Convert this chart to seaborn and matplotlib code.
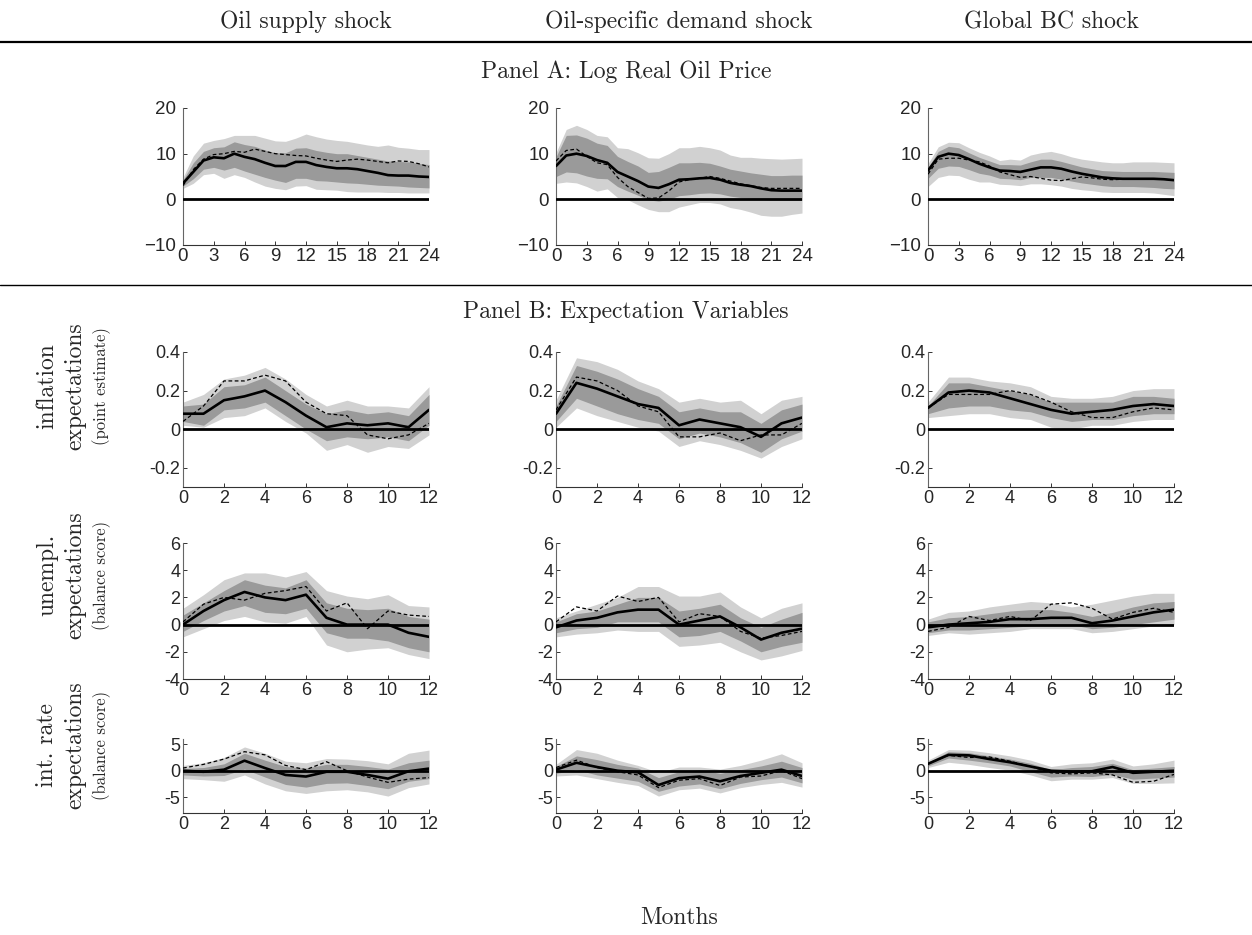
"""Impulse responses of oil price and expectation variables to three oil shocks"""

import matplotlib
matplotlib.use('Agg')
import matplotlib.pyplot as plt
from matplotlib.lines import Line2D
import numpy as np
import pandas as pd
import seaborn as sns

# column / row labels
shocks = ['Oil supply shock', 'Oil-specific demand shock', 'Global BC shock']
row_titles = [('inflation', 'expectations', '(point estimate)'),
              ('unempl.', 'expectations', '(balance score)'),
              ('int. rate', 'expectations', '(balance score)')]

months_a = list(range(25))
months_b = list(range(13))

# ---- Panel A: log real oil price (irf, alternative, 90% / 68% bands) ----
a1_irf = [3.5, 6.0, 8.5, 9.2, 9.0, 10.0, 9.3, 8.8, 8.0, 7.3, 7.3, 8.2, 8.2, 7.5, 7.1, 6.8, 6.8, 6.6, 6.2, 5.8, 5.3, 5.2, 5.2, 5.0, 4.9]
a1_alt = [3.0, 6.5, 8.8, 9.8, 10.0, 10.5, 10.3, 11.0, 10.5, 10.0, 9.8, 9.6, 9.5, 9.0, 8.6, 8.3, 8.6, 8.8, 8.6, 8.3, 8.0, 8.4, 8.3, 7.8, 7.1]
a1_hi90 = [4.8, 9.5, 12.3, 12.9, 13.3, 14.0, 14.0, 14.0, 13.4, 12.8, 12.7, 13.4, 14.3, 13.7, 13.2, 12.9, 12.7, 12.3, 11.9, 11.6, 11.9, 11.4, 11.2, 10.9, 10.9]
a1_hi68 = [4.2, 8.0, 10.5, 11.3, 11.5, 12.6, 12.0, 11.6, 10.8, 10.2, 10.2, 11.2, 11.3, 10.7, 10.3, 10.0, 10.0, 9.6, 9.2, 8.8, 8.4, 8.3, 8.2, 7.9, 7.6]
a1_lo68 = [2.9, 4.5, 6.6, 7.0, 6.4, 7.0, 6.2, 5.5, 4.8, 4.2, 3.7, 4.6, 4.6, 4.1, 4.0, 3.8, 3.6, 3.5, 3.3, 3.1, 3.0, 2.9, 2.7, 2.6, 2.5]
a1_lo90 = [2.4, 3.5, 5.4, 5.7, 4.6, 5.4, 4.8, 3.8, 2.9, 2.4, 2.1, 2.9, 3.0, 2.2, 2.1, 2.0, 1.7, 1.6, 1.6, 1.6, 1.5, 1.5, 1.4, 1.4, 1.4]

a2_irf = [7.3, 9.6, 10.0, 9.5, 8.6, 8.0, 6.0, 5.0, 4.0, 2.8, 2.5, 3.3, 4.3, 4.4, 4.6, 4.7, 4.3, 3.6, 3.2, 2.9, 2.4, 2.0, 1.9, 1.9, 1.9]
a2_alt = [8.4, 10.7, 11.0, 9.4, 8.0, 7.6, 4.8, 2.8, 1.5, 0.2, 0.3, 1.8, 3.8, 4.3, 4.6, 5.0, 4.6, 4.0, 3.4, 3.0, 2.6, 2.4, 2.4, 2.4, 2.4]
a2_hi90 = [10.2, 15.3, 16.2, 15.3, 14.0, 13.7, 11.3, 11.1, 10.2, 9.1, 9.0, 10.0, 11.3, 11.3, 11.6, 11.3, 10.8, 9.7, 9.2, 9.2, 9.0, 8.9, 8.8, 8.9, 9.0]
a2_hi68 = [9.3, 14.0, 14.1, 13.4, 12.3, 11.8, 9.4, 8.3, 7.3, 5.9, 6.1, 7.0, 8.0, 8.0, 8.1, 7.9, 7.3, 6.6, 6.2, 5.8, 5.5, 5.2, 5.2, 5.3, 5.3]
a2_lo68 = [5.0, 6.0, 5.8, 5.1, 4.6, 4.5, 2.8, 1.8, 0.9, -0.1, -0.4, 0.0, 0.8, 1.0, 1.3, 1.4, 1.2, 0.7, 0.4, 0.2, 0.0, -0.2, -0.2, -0.2, -0.2]
a2_lo90 = [3.5, 3.8, 3.6, 2.8, 1.8, 2.3, 0.4, -0.1, -1.2, -2.2, -2.7, -2.7, -1.7, -1.2, -0.7, -0.7, -1.0, -1.8, -2.2, -2.8, -3.5, -3.7, -3.7, -3.3, -3.0]

a3_irf = [6.3, 9.3, 10.0, 9.7, 8.8, 7.8, 7.0, 6.3, 6.2, 6.0, 6.5, 7.0, 7.0, 6.7, 6.1, 5.6, 5.2, 4.8, 4.6, 4.5, 4.5, 4.5, 4.5, 4.4, 4.2]
a3_alt = [5.5, 8.8, 9.0, 9.0, 8.6, 8.2, 7.3, 6.0, 5.4, 4.8, 5.0, 4.6, 4.2, 4.1, 4.5, 4.9, 4.7, 4.4, 4.3, 4.4, 4.5, 4.5, 4.5, 4.4, 4.2]
a3_hi90 = [7.8, 11.5, 12.5, 12.4, 11.3, 10.3, 9.5, 8.5, 8.8, 8.6, 9.7, 10.2, 10.5, 10.0, 9.3, 8.8, 8.5, 8.2, 8.0, 8.0, 8.2, 8.2, 8.2, 8.1, 8.0]
a3_hi68 = [7.0, 10.5, 11.6, 11.3, 10.2, 9.2, 8.4, 7.6, 7.6, 7.5, 8.2, 8.8, 8.8, 8.3, 7.7, 7.1, 6.7, 6.3, 6.2, 6.1, 6.1, 6.1, 6.1, 6.0, 5.9]
a3_lo68 = [4.6, 6.8, 7.3, 7.2, 6.5, 5.7, 5.3, 4.6, 4.5, 4.3, 4.8, 4.8, 4.8, 4.4, 4.0, 3.6, 3.3, 3.0, 2.8, 2.8, 2.8, 2.7, 2.6, 2.4, 2.3]
a3_lo90 = [2.8, 4.8, 5.3, 5.2, 4.4, 3.8, 3.8, 3.3, 3.2, 3.0, 3.4, 3.4, 3.2, 2.9, 2.4, 2.1, 1.9, 1.6, 1.5, 1.5, 1.5, 1.5, 1.4, 1.1, 0.8]

# ---- Panel B row 1: inflation expectations ----
b11_irf = [0.08, 0.08, 0.15, 0.17, 0.20, 0.14, 0.07, 0.01, 0.03, 0.02, 0.03, 0.01, 0.10]
b11_alt = [0.04, 0.12, 0.25, 0.25, 0.28, 0.25, 0.14, 0.08, 0.07, -0.03, -0.05, -0.03, 0.03]
b11_hi90 = [0.14, 0.18, 0.26, 0.28, 0.32, 0.26, 0.18, 0.12, 0.15, 0.12, 0.12, 0.11, 0.22]
b11_hi68 = [0.12, 0.13, 0.22, 0.23, 0.27, 0.20, 0.13, 0.08, 0.10, 0.08, 0.09, 0.07, 0.18]
b11_lo68 = [0.04, 0.02, 0.10, 0.11, 0.14, 0.07, 0.00, -0.06, -0.04, -0.05, -0.04, -0.06, 0.02]
b11_lo90 = [0.02, 0.01, 0.06, 0.07, 0.11, 0.04, -0.02, -0.11, -0.08, -0.12, -0.09, -0.10, -0.03]

b12_irf = [0.08, 0.24, 0.21, 0.17, 0.13, 0.11, 0.02, 0.05, 0.03, 0.01, -0.04, 0.03, 0.06]
b12_alt = [0.10, 0.27, 0.25, 0.20, 0.12, 0.09, -0.04, -0.04, -0.02, -0.06, -0.03, -0.03, 0.03]
b12_hi90 = [0.15, 0.37, 0.35, 0.31, 0.25, 0.21, 0.14, 0.16, 0.14, 0.15, 0.08, 0.15, 0.17]
b12_hi68 = [0.12, 0.33, 0.30, 0.26, 0.21, 0.17, 0.09, 0.11, 0.09, 0.09, 0.03, 0.10, 0.13]
b12_lo68 = [0.04, 0.16, 0.12, 0.08, 0.05, 0.03, -0.05, -0.02, -0.04, -0.07, -0.12, -0.05, -0.01]
b12_lo90 = [0.01, 0.11, 0.07, 0.04, 0.01, -0.01, -0.09, -0.06, -0.08, -0.11, -0.15, -0.09, -0.05]

b13_irf = [0.11, 0.19, 0.20, 0.19, 0.16, 0.13, 0.10, 0.08, 0.09, 0.10, 0.12, 0.13, 0.12]
b13_alt = [0.11, 0.18, 0.18, 0.18, 0.20, 0.18, 0.14, 0.09, 0.06, 0.06, 0.09, 0.11, 0.10]
b13_hi90 = [0.14, 0.27, 0.27, 0.25, 0.24, 0.22, 0.17, 0.16, 0.16, 0.17, 0.20, 0.21, 0.21]
b13_hi68 = [0.12, 0.24, 0.24, 0.22, 0.20, 0.18, 0.14, 0.14, 0.14, 0.14, 0.17, 0.17, 0.16]
b13_lo68 = [0.08, 0.11, 0.12, 0.12, 0.10, 0.09, 0.06, 0.04, 0.05, 0.05, 0.07, 0.08, 0.08]
b13_lo90 = [0.06, 0.07, 0.08, 0.08, 0.06, 0.05, 0.01, 0.00, 0.02, 0.02, 0.04, 0.05, 0.05]

# ---- Panel B row 2: unemployment expectations ----
b21_irf = [0.0, 1.0, 1.8, 2.4, 2.0, 1.8, 2.2, 0.5, 0.0, 0.0, 0.0, -0.6, -0.9]
b21_alt = [0.2, 1.5, 2.0, 1.8, 2.3, 2.5, 2.8, 1.0, 1.6, -0.3, 1.0, 0.7, 0.6]
b21_hi90 = [1.2, 2.2, 3.3, 3.8, 3.8, 3.5, 3.9, 2.5, 2.1, 1.9, 2.2, 1.4, 1.3]
b21_hi68 = [0.7, 1.6, 2.5, 3.3, 2.9, 2.7, 3.3, 1.6, 1.2, 1.1, 1.2, 0.6, 0.4]
b21_lo68 = [-0.5, 0.3, 1.0, 1.4, 0.9, 0.8, 1.2, -0.6, -1.0, -1.0, -1.2, -1.7, -2.0]
b21_lo90 = [-0.9, -0.3, 0.3, 0.6, 0.2, 0.1, 0.6, -1.5, -2.0, -1.8, -1.7, -2.2, -2.5]

b22_irf = [-0.2, 0.3, 0.5, 0.9, 1.1, 1.1, 0.0, 0.3, 0.6, -0.2, -1.1, -0.6, -0.3]
b22_alt = [0.2, 1.3, 1.0, 2.1, 1.7, 2.0, 0.2, 0.8, 0.6, -0.5, -1.0, -0.8, -0.5]
b22_hi90 = [0.5, 1.0, 1.5, 2.0, 2.8, 2.8, 2.1, 2.1, 2.4, 1.3, 0.5, 1.2, 1.6]
b22_hi68 = [0.2, 0.8, 1.0, 1.5, 2.0, 2.0, 1.0, 1.2, 1.5, 0.5, -0.2, 0.4, 0.9]
b22_lo68 = [-0.6, -0.3, -0.2, 0.2, 0.2, 0.2, -0.9, -0.8, -0.5, -1.2, -2.0, -1.6, -1.3]
b22_lo90 = [-0.9, -0.7, -0.6, -0.4, -0.5, -0.5, -1.6, -1.5, -1.3, -2.0, -2.6, -2.3, -1.9]

b23_irf = [-0.2, 0.0, 0.1, 0.2, 0.4, 0.4, 0.5, 0.5, 0.1, 0.3, 0.6, 0.9, 1.1]
b23_alt = [-0.5, -0.2, 0.6, 0.3, 0.6, 0.3, 1.5, 1.6, 1.2, 0.4, 0.9, 1.2, 0.9]
b23_hi90 = [0.4, 0.9, 1.0, 1.3, 1.5, 1.7, 1.6, 1.3, 1.5, 1.8, 2.1, 2.3, 2.3]
b23_hi68 = [0.2, 0.5, 0.6, 0.8, 1.0, 1.1, 1.1, 0.9, 0.6, 0.9, 1.3, 1.6, 1.7]
b23_lo68 = [-0.6, -0.4, -0.4, -0.3, -0.2, -0.1, 0.0, 0.0, -0.3, -0.2, 0.0, 0.2, 0.4]
b23_lo90 = [-0.8, -0.6, -0.7, -0.6, -0.5, -0.3, -0.3, -0.3, -0.6, -0.5, -0.3, -0.1, 0.0]

# ---- Panel B row 3: interest rate expectations ----
b31_irf = [0.0, -0.2, 0.2, 1.9, 0.5, -0.8, -1.1, -0.2, -0.2, -0.8, -1.5, -0.1, 0.4]
b31_alt = [0.5, 1.2, 2.2, 3.6, 3.0, 1.0, 0.2, 1.7, 0.0, -1.2, -2.2, -1.6, -1.3]
b31_hi90 = [1.0, 1.5, 2.5, 4.5, 3.3, 1.8, 1.5, 2.3, 2.2, 1.9, 1.3, 3.3, 3.9]
b31_hi68 = [0.4, 0.6, 1.3, 3.3, 2.0, 0.8, 0.5, 1.2, 1.2, 0.8, 0.3, 1.5, 2.0]
b31_lo68 = [-0.8, -1.0, -0.9, 0.3, -1.2, -2.6, -3.1, -2.4, -2.3, -2.8, -3.4, -2.0, -1.5]
b31_lo90 = [-1.5, -1.7, -2.0, -0.8, -2.5, -3.8, -4.3, -3.8, -3.6, -4.0, -4.8, -3.2, -2.5]

b32_irf = [0.2, 1.5, 0.7, 0.0, -0.3, -2.7, -1.4, -1.1, -2.0, -1.0, -0.4, 0.2, -1.0]
b32_alt = [0.6, 2.0, 0.6, -0.2, -0.8, -3.2, -1.8, -1.5, -2.8, -1.2, -1.0, 0.0, -1.5]
b32_hi90 = [1.2, 4.0, 3.3, 2.0, 1.0, -0.3, 0.7, 0.7, 0.3, 1.0, 2.0, 3.2, 1.5]
b32_hi68 = [0.8, 2.8, 2.1, 1.2, 0.5, -1.3, -0.2, 0.2, -0.5, 0.2, 0.9, 1.8, 0.6]
b32_lo68 = [-0.5, 0.2, -0.8, -1.4, -2.0, -3.9, -2.9, -2.5, -3.4, -2.4, -1.7, -1.2, -2.3]
b32_lo90 = [-1.0, -0.8, -1.5, -2.2, -2.8, -4.8, -3.6, -3.3, -4.2, -3.2, -2.6, -2.2, -3.1]

b33_irf = [1.3, 3.0, 2.9, 2.2, 1.6, 0.8, 0.0, -0.2, -0.1, 0.7, -0.4, -0.2, 0.0]
b33_alt = [1.3, 2.9, 2.5, 2.6, 1.8, 0.8, -0.4, -0.6, -0.4, -0.8, -2.2, -2.0, -0.7]
b33_hi90 = [2.0, 4.0, 3.9, 3.4, 2.8, 2.0, 0.8, 1.3, 1.5, 2.2, 0.9, 1.3, 2.0]
b33_hi68 = [1.6, 3.6, 3.4, 2.8, 2.2, 1.4, 0.2, 0.6, 0.8, 1.4, 0.2, 0.5, 0.8]
b33_lo68 = [0.9, 2.4, 2.0, 1.5, 0.9, -0.2, -1.2, -1.0, -1.1, -0.7, -1.6, -1.4, -1.2]
b33_lo90 = [0.6, 1.6, 1.2, 0.6, 0.1, -0.8, -1.9, -1.6, -1.6, -1.3, -2.4, -2.4, -2.3]

LIGHT = '#d1d1d1'
DARK = '#9a9a9a'
SERIF = 'cmr10'

sns.set_style('ticks')
plt.rcParams['font.family'] = ['Liberation Sans', 'DejaVu Sans']
plt.rcParams['axes.unicode_minus'] = False


def draw_panel(ax, x, irf, alt, hi90, hi68, lo68, lo90):
    df = pd.DataFrame({'h': x, 'irf': irf, 'alt': alt})
    ax.fill_between(x, lo90, hi90, color=LIGHT, lw=0, zorder=1)
    ax.fill_between(x, lo68, hi68, color=DARK, lw=0, zorder=2)
    ax.plot([x[0], x[-1]], [0, 0], color='black', lw=2, zorder=3)
    sns.lineplot(data=df, x='h', y='irf', ax=ax, color='black', lw=1.9, zorder=5)
    sns.lineplot(data=df, x='h', y='alt', ax=ax, color='black', lw=0.9,
                 linestyle=(0, (3, 2)), zorder=4)
    ax.set_xlabel('')
    ax.set_ylabel('')
    ax.set_xlim(x[0], x[-1])
    sns.despine(ax=ax)
    ax.spines['left'].set_color('#666666')
    ax.spines['bottom'].set_color('#333333')
    for s in ('left', 'bottom'):
        ax.spines[s].set_linewidth(0.8)
    ax.tick_params(direction='in', length=3, width=0.7, color='#333333',
                   labelsize=13, pad=2)
    ax.set_facecolor('none')


W, H = 1252, 935
fig = plt.figure(figsize=(W / 100, H / 100), dpi=100)


def add_ax(left, right, top, bottom):
    return fig.add_axes([left / W, 1 - bottom / H, (right - left) / W, (bottom - top) / H])


col_px = [(183, 429), (556, 802), (928, 1174)]

# Panel A
panel_a = [(a1_irf, a1_alt, a1_hi90, a1_hi68, a1_lo68, a1_lo90),
           (a2_irf, a2_alt, a2_hi90, a2_hi68, a2_lo68, a2_lo90),
           (a3_irf, a3_alt, a3_hi90, a3_hi68, a3_lo68, a3_lo90)]
for (l, r), series in zip(col_px, panel_a):
    ax = add_ax(l, r, 108, 245)
    draw_panel(ax, months_a, *series)
    ax.set_ylim(-10, 20)
    ax.set_yticks([-10, 0, 10, 20])
    ax.set_yticklabels(['\u221210', '0', '10', '20'])
    ax.set_xticks(range(0, 25, 3))
    ax.tick_params(axis='x', labelsize=13.5, pad=2)
    ax.tick_params(axis='y', labelsize=13.5, pad=5)

# Panel B
panel_b = [
    [(b11_irf, b11_alt, b11_hi90, b11_hi68, b11_lo68, b11_lo90),
     (b12_irf, b12_alt, b12_hi90, b12_hi68, b12_lo68, b12_lo90),
     (b13_irf, b13_alt, b13_hi90, b13_hi68, b13_lo68, b13_lo90)],
    [(b21_irf, b21_alt, b21_hi90, b21_hi68, b21_lo68, b21_lo90),
     (b22_irf, b22_alt, b22_hi90, b22_hi68, b22_lo68, b22_lo90),
     (b23_irf, b23_alt, b23_hi90, b23_hi68, b23_lo68, b23_lo90)],
    [(b31_irf, b31_alt, b31_hi90, b31_hi68, b31_lo68, b31_lo90),
     (b32_irf, b32_alt, b32_hi90, b32_hi68, b32_lo68, b32_lo90),
     (b33_irf, b33_alt, b33_hi90, b33_hi68, b33_lo68, b33_lo90)],
]
row_px = [(352, 487), (543, 679), (739, 813)]
row_ylim = [(-0.3, 0.4), (-4, 6), (-8, 6)]
row_ticks = [([-0.2, 0, 0.2, 0.4], ['-0.2', '0', '0.2', '0.4']),
             ([-4, -2, 0, 2, 4, 6], ['-4', '-2', '0', '2', '4', '6']),
             ([-5, 0, 5], ['-5', '0', '5'])]
row_label_y = [386, 575, 745]

for i, ((t, b), row) in enumerate(zip(row_px, panel_b)):
    for (l, r), series in zip(col_px, row):
        ax = add_ax(l, r, t, b)
        draw_panel(ax, months_b, *series)
        ax.set_ylim(*row_ylim[i])
        ax.set_yticks(row_ticks[i][0])
        ax.set_yticklabels(row_ticks[i][1])
        ax.set_xticks(range(0, 13, 2))
    y = 1 - row_label_y[i] / H
    fig.text(47 / W, y, row_titles[i][0], rotation=90, ha='center', va='center',
             family=SERIF, fontsize=17)
    fig.text(75 / W, y, row_titles[i][1], rotation=90, ha='center', va='center',
             family=SERIF, fontsize=17)
    fig.text(102 / W, y, row_titles[i][2], rotation=90, ha='center', va='center',
             family=SERIF, fontsize=12)

# headers and rules
for (l, r), name in zip(col_px, shocks):
    fig.text((l + r) / 2 / W, 1 - 22 / H, name, ha='center', va='center',
             family=SERIF, fontsize=17)
fig.text(626 / W, 1 - 72 / H, 'Panel A: Log Real Oil Price', ha='center', va='center',
         family=SERIF, fontsize=17)
fig.text(626 / W, 1 - 312 / H, 'Panel B: Expectation Variables', ha='center', va='center',
         family=SERIF, fontsize=17)
fig.text(679 / W, 1 - 918 / H, 'Months', ha='center', va='center',
         family=SERIF, fontsize=17)
fig.add_artist(Line2D([0, 1], [1 - 42 / H, 1 - 42 / H], color='black', lw=1.6))
fig.add_artist(Line2D([0, 1], [1 - 285 / H, 1 - 285 / H], color='black', lw=1.0))

fig.savefig('out.png', dpi=100, facecolor='white')
